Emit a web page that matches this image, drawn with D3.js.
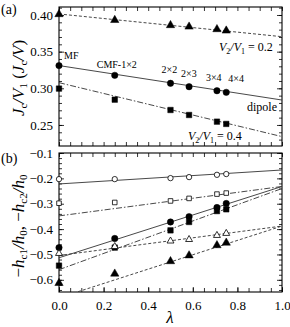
<!DOCTYPE html>
<html>
<head>
<meta charset="utf-8">
<script src="https://cdn.jsdelivr.net/npm/d3@7"></script>
<style>
  body { margin: 0; background: #fff; }
  svg { display: block; font-family: "Liberation Serif", "DejaVu Serif", serif; }
</style>
</head>
<body>
<svg id="chart" width="290" height="327"></svg>
<script>
// cluster sizes (lambda) used in both panels
var lambdas = [0, 0.25, 0.5, 0.5833, 0.7083, 0.75];
var clusterLabels = ["MF", "CMF-1\u00d72", "2\u00d72", "2\u00d73", "3\u00d74", "4\u00d74"];

// panel (a): Jc/V1
var aTriangle = [0.401, 0.393, 0.386, 0.384, 0.3805, 0.3786];
var aCircle = [0.331, 0.3177, 0.3068, 0.3022, 0.2967, 0.2945];
var aSquare = [0.2996, 0.2845, 0.2704, 0.2636, 0.2545, 0.2514];
// linear fits, value at lambda = 0 and lambda = 1
var aTriangleFit = [0.4014, 0.3704];
var aCircleFit = [0.331, 0.284];
var aSquareFit = [0.3077, 0.2341];

// panel (b): -hc1/h0, -hc2/h0
var bOpenCircle = [-0.203, -0.203, -0.199, -0.195, -0.186, -0.183];
var bOpenSquare = [-0.298, -0.295, -0.289, -0.279, -0.262, -0.258];
var bCircle = [-0.473, -0.437, -0.372, -0.351, -0.315, -0.299];
var bSquare = [-0.544, -0.473, -0.405, -0.372, -0.329, -0.322];
var bOpenTriangle = [-0.496, -0.469, -0.447, -0.441, -0.425, -0.417];
var bTriangle = [-0.613, -0.576, -0.527, -0.504, -0.464, -0.454];
var bOpenCircleFit = [-0.222, -0.167];
var bOpenSquareFit = [-0.348, -0.232];
var bCircleFit = [-0.513, -0.232];
var bSquareFit = [-0.560, -0.240];
var bOpenTriangleFit = [-0.504, -0.388];
var bTriangleFit = [-0.671, -0.388];

var aTicks = [0.25, 0.30, 0.35, 0.40];
var bTicks = [-0.6, -0.5, -0.4, -0.3, -0.2, -0.1];
var xTicks = [0, 0.2, 0.4, 0.6, 0.8, 1.0];

var svg = d3.select("#chart");
var left = 59, right = 282;

var x = d3.scaleLinear().domain([0, 1]).range([left, right]);
var yA = d3.scaleLinear().domain([0.2213, 0.4109]).range([146, 7]);
var yB = d3.scaleLinear().domain([-0.648, -0.1]).range([292, 153]);

var dashes = { solid: null, dash: "3,2", dashdot: "6,2,1.5,2" };

// draws frame with inward ticks on all four sides
function frame(y, yMajor, yMinorStep, showX, fmt, clipId) {
    var y0 = y.range()[0], y1 = y.range()[1];
    var g = svg.append("g");
    var xMinor = d3.range(0, 1.0001, 0.05);
    var dom = y.domain();
    var yMinor = d3.range(Math.ceil(dom[0] / yMinorStep - 1e-6), Math.floor(dom[1] / yMinorStep + 1e-6) + 1)
        .map(function(k) { return k * yMinorStep; });

    g.append("g").attr("transform", "translate(0," + y0 + ")")
        .call(d3.axisBottom(x).tickValues(xMinor).tickSize(-4).tickFormat(""));
    g.append("g").attr("transform", "translate(0," + y1 + ")")
        .call(d3.axisTop(x).tickValues(xMinor).tickSize(-4).tickFormat(""));
    g.append("g").attr("transform", "translate(" + left + ",0)")
        .call(d3.axisLeft(y).tickValues(yMinor).tickSize(-3).tickFormat(""));
    g.append("g").attr("transform", "translate(" + right + ",0)")
        .call(d3.axisRight(y).tickValues(yMinor).tickSize(-3).tickFormat(""));
    // major ticks with labels
    g.append("g").attr("transform", "translate(" + left + ",0)")
        .call(d3.axisLeft(y).tickValues(yMajor).tickSize(-5).tickPadding(6).tickFormat(fmt));
    g.append("g").attr("transform", "translate(" + right + ",0)")
        .call(d3.axisRight(y).tickValues(yMajor).tickSize(-5).tickFormat(""));
    if (showX) {
        g.append("g").attr("transform", "translate(0," + y0 + ")")
            .call(d3.axisBottom(x).tickValues(xTicks).tickSize(-5).tickPadding(9).tickFormat(d3.format(".1f")));
    }
    g.selectAll(".domain").remove();
    g.append("rect").attr("x", left).attr("y", y1).attr("width", right - left).attr("height", y0 - y1)
        .attr("fill", "none").attr("stroke", "#000").attr("stroke-width", 1.1);
    g.selectAll(".tick line").attr("stroke", "#000").attr("stroke-width", 0.8);
    g.selectAll(".tick text").attr("font-size", 13).attr("fill", "#000")
        .attr("font-family", "Liberation Serif, serif");

    svg.append("clipPath").attr("id", clipId).append("rect")
        .attr("x", left).attr("y", y1).attr("width", right - left).attr("height", y0 - y1);
}

function fitLine(y, fit, style, clipId) {
    var line = d3.line().x(function(d, i) { return x(i); }).y(function(d) { return y(d); });
    svg.append("path").datum(fit)
        .attr("d", line)
        .attr("clip-path", "url(#" + clipId + ")")
        .attr("fill", "none").attr("stroke", "#333").attr("stroke-width", 0.9)
        .attr("stroke-dasharray", dashes[style]);
}

function markers(y, values, shape, filled) {
    var sym = { circle: d3.symbolCircle, square: d3.symbolSquare, triangle: d3.symbolTriangle }[shape];
    var size = { circle: 32, square: 30, triangle: 30 }[shape];
    svg.append("g").selectAll("path").data(values).join("path")
        .attr("transform", function(d, i) { return "translate(" + x(lambdas[i]) + "," + y(d) + ")"; })
        .attr("d", d3.symbol().type(sym).size(filled ? size : size * 0.7))
        .attr("fill", filled ? "#000" : "#fff")
        .attr("stroke", "#000").attr("stroke-width", filled ? 0.5 : 0.8);
}

// ---- panel (a)
frame(yA, aTicks, 0.01, false, d3.format(".2f"), "clipA");
fitLine(yA, aTriangleFit, "dash", "clipA");
fitLine(yA, aCircleFit, "solid", "clipA");
fitLine(yA, aSquareFit, "dashdot", "clipA");
markers(yA, aTriangle, "triangle", true);
markers(yA, aCircle, "circle", true);
markers(yA, aSquare, "square", true);

// ---- panel (b)
frame(yB, bTicks, 0.02, true, d3.format(".1f"), "clipB");
fitLine(yB, bOpenCircleFit, "solid", "clipB");
fitLine(yB, bOpenSquareFit, "dashdot", "clipB");
fitLine(yB, bCircleFit, "solid", "clipB");
fitLine(yB, bSquareFit, "dashdot", "clipB");
fitLine(yB, bOpenTriangleFit, "dash", "clipB");
fitLine(yB, bTriangleFit, "dash", "clipB");
markers(yB, bOpenCircle, "circle", false);
markers(yB, bOpenSquare, "square", false);
markers(yB, bCircle, "circle", true);
markers(yB, bSquare, "square", true);
markers(yB, bOpenTriangle, "triangle", false);
markers(yB, bTriangle, "triangle", true);

// ---- annotations
var txt = svg.append("g").attr("font-size", 10).attr("fill", "#000");
var labelOffsets = [[5, -7], [-18, -7], [-9, -10], [-8, -10], [-11, -10], [2, -10]];
clusterLabels.forEach(function(s, i) {
    txt.append("text")
        .attr("x", x(lambdas[i]) + labelOffsets[i][0])
        .attr("y", yA(aCircle[i]) + labelOffsets[i][1])
        .text(s);
});
svg.append("text").attr("x", 247).attr("y", 111).attr("font-size", 12).text("dipole");

function ratioLabel(xp, yp, v) {
    var t = svg.append("text").attr("x", xp).attr("y", yp).attr("font-size", 12);
    t.append("tspan").attr("font-style", "italic").text("V");
    t.append("tspan").attr("font-size", 8).attr("dy", 3).text("2");
    t.append("tspan").attr("dy", -3).attr("font-style", "italic").text("/V");
    t.append("tspan").attr("font-size", 8).attr("dy", 3).text("1");
    t.append("tspan").attr("dy", -3).text(" = " + v);
}
ratioLabel(219, 51, "0.2");
ratioLabel(188, 140, "0.4");

svg.append("text").attr("x", 1).attr("y", 14).attr("font-size", 14).text("(a)");
svg.append("text").attr("x", 1).attr("y", 163).attr("font-size", 14).text("(b)");

// y axis titles
var ta = svg.append("text").attr("transform", "translate(24,78) rotate(-90)")
    .attr("text-anchor", "middle").attr("font-size", 17);
ta.append("tspan").attr("font-style", "italic").text("J");
ta.append("tspan").attr("font-size", 11).attr("dy", 3).text("c");
ta.append("tspan").attr("dy", -3).attr("font-style", "italic").text("/V");
ta.append("tspan").attr("font-size", 11).attr("dy", 3).text("1");
ta.append("tspan").attr("dy", -3).text(" (");
ta.append("tspan").attr("font-style", "italic").text("J");
ta.append("tspan").attr("font-size", 11).attr("dy", 3).text("c");
ta.append("tspan").attr("dy", -3).attr("font-style", "italic").text("/V");
ta.append("tspan").text(")");

var tb = svg.append("text").attr("transform", "translate(24,226) rotate(-90)")
    .attr("text-anchor", "middle").attr("font-size", 17);
tb.append("tspan").text("\u2212");
tb.append("tspan").attr("font-style", "italic").text("h");
tb.append("tspan").attr("font-size", 11).attr("dy", 3).text("c1");
tb.append("tspan").attr("dy", -3).attr("font-style", "italic").text("/h");
tb.append("tspan").attr("font-size", 11).attr("dy", 3).text("0");
tb.append("tspan").attr("dy", -3).text(", \u2212");
tb.append("tspan").attr("font-style", "italic").text("h");
tb.append("tspan").attr("font-size", 11).attr("dy", 3).text("c2");
tb.append("tspan").attr("dy", -3).attr("font-style", "italic").text("/h");
tb.append("tspan").attr("font-size", 11).attr("dy", 3).text("0");

svg.append("text").attr("x", 170).attr("y", 323).attr("text-anchor", "middle")
    .attr("font-size", 17).attr("font-style", "italic").text("\u03bb");
</script>
</body>
</html>
